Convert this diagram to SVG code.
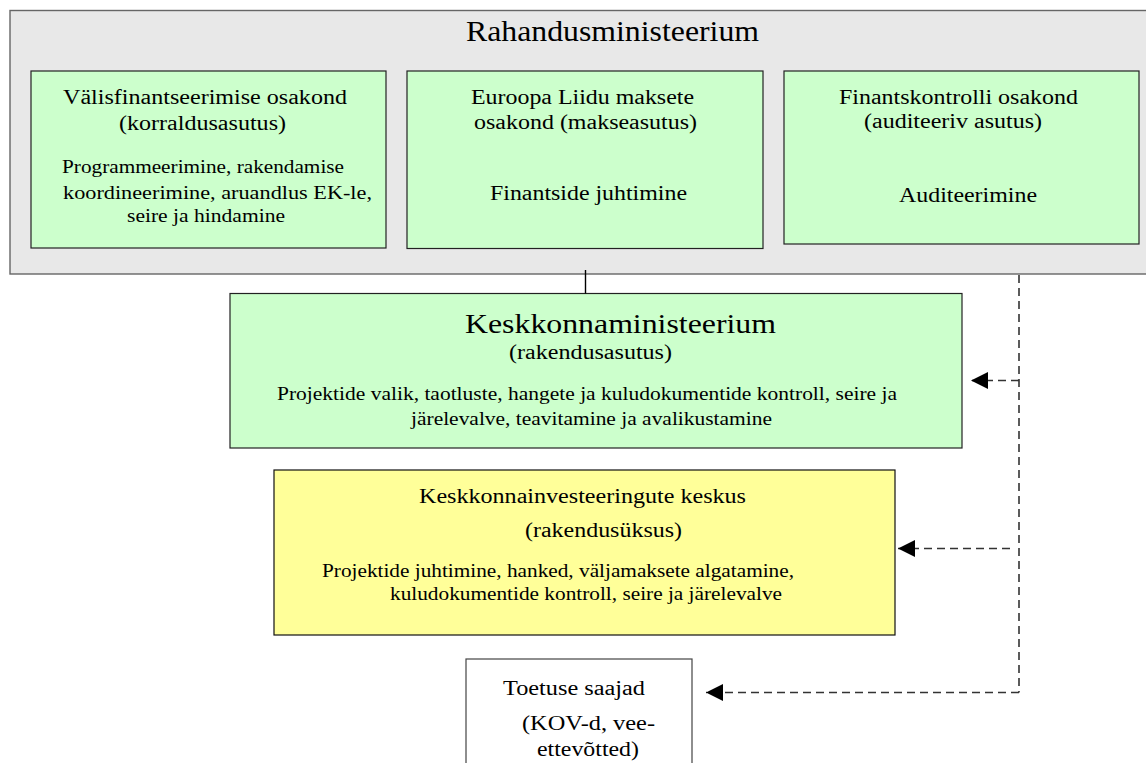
<svg xmlns="http://www.w3.org/2000/svg" width="1146" height="763" viewBox="0 0 1146 763">
<style>
text{font-family:"Liberation Serif","Times New Roman",serif;fill:#000}
.t30{font-size:30px}.t27{font-size:27px}.t20{font-size:20px}.t18{font-size:18px}
.green{fill:#ccffcc;stroke:#222;stroke-width:1.2}
.yellow{fill:#ffff99;stroke:#111;stroke-width:1.2}
.white{fill:#fff;stroke:#444;stroke-width:1.2}
.dash{fill:none;stroke:#333;stroke-width:1.6;stroke-dasharray:8 5}
.solid{fill:none;stroke:#000;stroke-width:1.4}
</style>
<defs>
<marker id="ah" viewBox="0 0 10 10" refX="10" refY="5" markerWidth="19" markerHeight="17" markerUnits="userSpaceOnUse" orient="auto">
<path d="M0,0 L10,5 L0,10 Z" fill="#000"/>
</marker>
</defs>
<g id="rahandusministeerium">
<rect x="10" y="10.5" width="1150" height="263.5" fill="#e8e8e8" stroke="#666" stroke-width="1.4"/>
<text class="t30" x="466" y="40.5" textLength="293" lengthAdjust="spacingAndGlyphs">Rahandusministeerium</text>
</g>
<g id="valisfinantseerimise">
<rect class="green" x="31" y="71" width="355" height="177"/>
<text class="t20" x="63" y="104" textLength="284" lengthAdjust="spacingAndGlyphs">Välisfinantseerimise osakond</text>
<text class="t20" x="119" y="130" textLength="167" lengthAdjust="spacingAndGlyphs">(korraldusasutus)</text>
<text class="t18" x="62" y="173" textLength="282" lengthAdjust="spacingAndGlyphs">Programmeerimine, rakendamise</text>
<text class="t18" x="63" y="199" textLength="309" lengthAdjust="spacingAndGlyphs">koordineerimine,   aruandlus EK-le,</text>
<text class="t18" x="127" y="222" textLength="158" lengthAdjust="spacingAndGlyphs">seire ja hindamine</text>
</g>
<g id="euroopa-liidu">
<rect class="green" x="407" y="71" width="356" height="177.5"/>
<text class="t20" x="471" y="104" textLength="223" lengthAdjust="spacingAndGlyphs">Euroopa Liidu maksete</text>
<text class="t20" x="474" y="129" textLength="223" lengthAdjust="spacingAndGlyphs">osakond (makseasutus)</text>
<text class="t20" x="490" y="200" textLength="197" lengthAdjust="spacingAndGlyphs">Finantside juhtimine</text>
</g>
<g id="finantskontrolli">
<rect class="green" x="784" y="71" width="355" height="173"/>
<text class="t20" x="839" y="104" textLength="239" lengthAdjust="spacingAndGlyphs">Finantskontrolli osakond</text>
<text class="t20" x="864" y="128" textLength="178" lengthAdjust="spacingAndGlyphs">(auditeeriv asutus)</text>
<text class="t20" x="899" y="201.5" textLength="138" lengthAdjust="spacingAndGlyphs">Auditeerimine</text>
</g>
<g id="keskkonnaministeerium">
<rect class="green" x="230" y="293.5" width="732" height="154.5"/>
<text class="t27" x="465" y="333" textLength="311" lengthAdjust="spacingAndGlyphs">Keskkonnaministeerium</text>
<text class="t20" x="509" y="359" textLength="163" lengthAdjust="spacingAndGlyphs">(rakendusasutus)</text>
<text class="t18" x="277" y="400" textLength="620" lengthAdjust="spacingAndGlyphs">Projektide valik, taotluste, hangete ja kuludokumentide  kontroll, seire ja</text>
<text class="t18" x="411" y="425" textLength="361" lengthAdjust="spacingAndGlyphs">järelevalve,  teavitamine ja avalikustamine</text>
</g>
<g id="kik">
<rect class="yellow" x="274" y="470" width="621" height="165"/>
<text class="t20" x="419" y="503" textLength="327" lengthAdjust="spacingAndGlyphs">Keskkonnainvesteeringute keskus</text>
<text class="t20" x="525" y="537" textLength="157" lengthAdjust="spacingAndGlyphs">(rakendusüksus)</text>
<text class="t18" x="322" y="577" textLength="472" lengthAdjust="spacingAndGlyphs">Projektide juhtimine, hanked, väljamaksete algatamine,</text>
<text class="t18" x="390" y="600" textLength="392" lengthAdjust="spacingAndGlyphs">kuludokumentide kontroll, seire ja järelevalve</text>
</g>
<g id="toetuse-saajad">
<rect class="white" x="466" y="659" width="226" height="120"/>
<text class="t20" x="503" y="695" textLength="142" lengthAdjust="spacingAndGlyphs">Toetuse saajad</text>
<text class="t20" x="522" y="730" textLength="133" lengthAdjust="spacingAndGlyphs">(KOV-d, vee-</text>
<text class="t20" x="537" y="756" textLength="102" lengthAdjust="spacingAndGlyphs">ettevõtted)</text>
</g>
<g id="connectors">
<line class="solid" x1="585.5" y1="270" x2="585.5" y2="293.5"/>
<path class="dash" d="M1019,275 V692.5"/>
<path class="dash" d="M1019,380.5 H971" marker-end="url(#ah)"/>
<path class="dash" d="M1010,548.5 H898" marker-end="url(#ah)"/>
<path class="dash" d="M1019,692.5 H706" marker-end="url(#ah)"/>
</g>
</svg>
